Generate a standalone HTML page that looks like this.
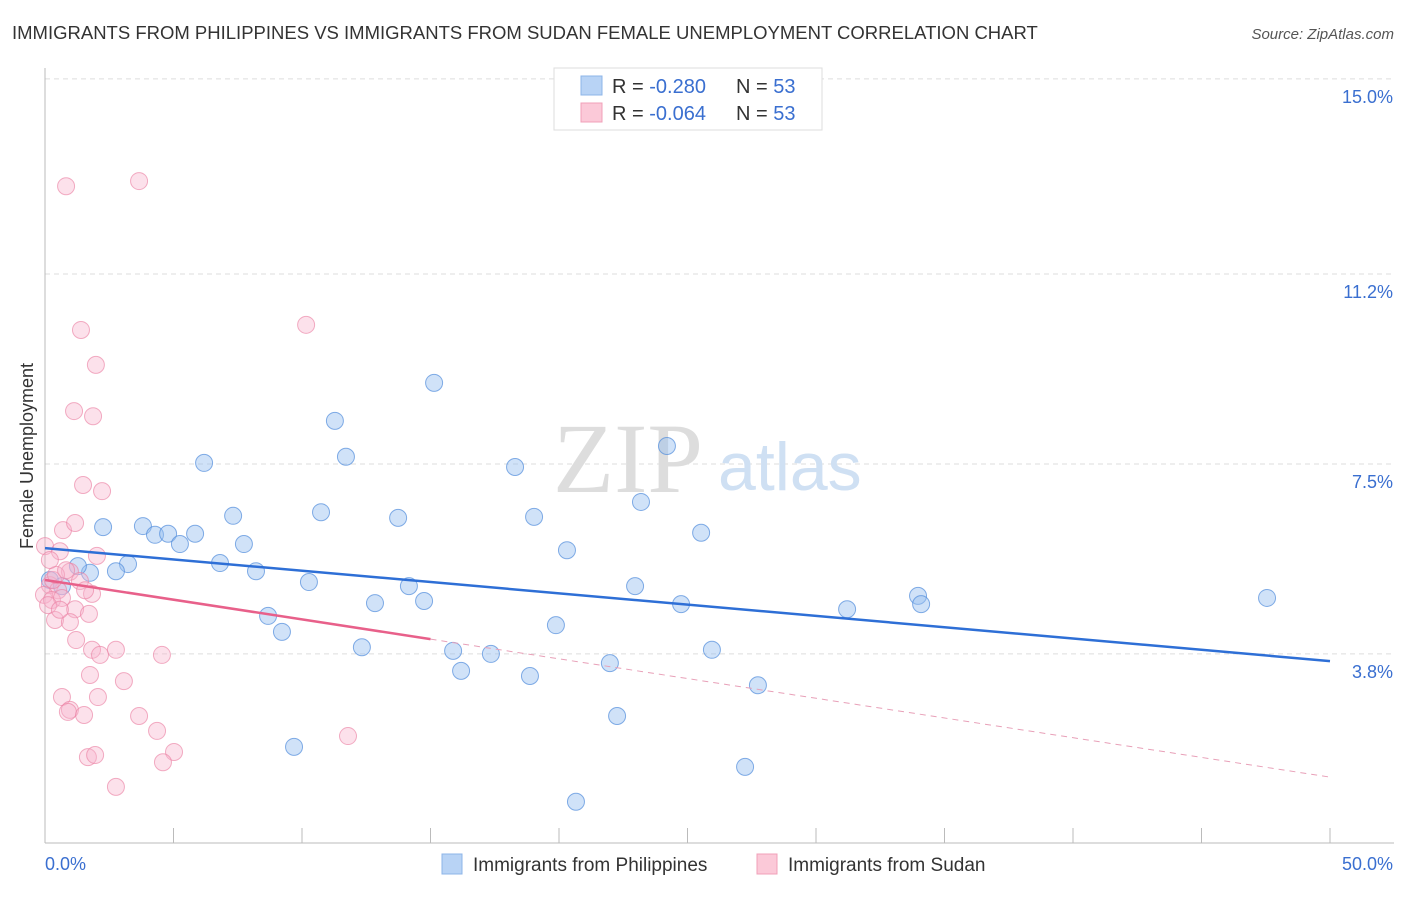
<!DOCTYPE html>
<html><head><meta charset="utf-8"><style>
body{margin:0;background:#fff;font-family:"Liberation Sans",sans-serif}
</style></head><body>
<svg width="1406" height="892" xmlns="http://www.w3.org/2000/svg" style="font-family:'Liberation Sans',sans-serif">
<text x="12" y="39" font-size="18.5" fill="#333">IMMIGRANTS FROM PHILIPPINES VS IMMIGRANTS FROM SUDAN FEMALE UNEMPLOYMENT CORRELATION CHART</text>
<text x="1394" y="39" font-size="15" fill="#555" text-anchor="end" font-style="italic">Source: ZipAtlas.com</text>
<text x="33" y="456" font-size="18" fill="#333" text-anchor="middle" transform="rotate(-90 33 456)">Female Unemployment</text>
<g id="grid"></g><g id="axes"></g>
<text x="553" y="492" font-size="100" fill="#ddd" font-family="Liberation Serif">ZIP</text>
<text x="718" y="490" font-size="68" fill="#cfe0f3">atlas</text>
<g id="pts"></g><g id="lines"></g>
<g>
<rect x="554" y="68" width="268" height="62" fill="#fff" stroke="#ddd"/>
<rect x="581" y="76" width="21" height="19" fill="#b8d3f5" stroke="#8db4e8"/>
<rect x="581" y="103" width="21" height="19" fill="#fbc9d8" stroke="#f0a0b8"/>
<text x="612" y="93" font-size="20" fill="#333">R = <tspan fill="#3a6fd0">-0.280</tspan></text>
<text x="736" y="93" font-size="20" fill="#333">N = <tspan fill="#3a6fd0">53</tspan></text>
<text x="612" y="120" font-size="20" fill="#333">R = <tspan fill="#3a6fd0">-0.064</tspan></text>
<text x="736" y="120" font-size="20" fill="#333">N = <tspan fill="#3a6fd0">53</tspan></text>
</g>
<g>
<rect x="442" y="854" width="20" height="20" fill="#b8d3f5" stroke="#8db4e8"/>
<text x="473" y="871" font-size="19" fill="#333">Immigrants from Philippines</text>
<rect x="757" y="854" width="20" height="20" fill="#fbc9d8" stroke="#f0a0b8"/>
<text x="788" y="871" font-size="19" fill="#333">Immigrants from Sudan</text>
</g>
</svg>
<script>
const yTicks=[15.0,11.2,7.5,3.8];
const yTickLabels=["15.0%","11.2%","7.5%","3.8%"];
const xTickLabels=["0.0%","50.0%"];
const bluePx=[[103,527],[143,526],[155,535],[168,534],[180,544],[195,534],[204,463],[233,516],[244,544],[220,563],[256,571],[128,564],[116,571],[90,573],[78,566],[50,580],[62,586],[268,616],[282,632],[294,747],[309,582],[321,512],[335,421],[346,457],[362,647],[375,603],[398,518],[409,586],[424,601],[434,383],[453,651],[461,671],[491,654],[515,467],[530,676],[534,517],[556,625],[567,550],[576,802],[610,663],[617,716],[635,586],[641,502],[667,446],[681,604],[701,533],[712,650],[745,767],[758,685],[847,609],[918,596],[921,604],[1267,598]];
const pinkPx=[[66,186],[139,181],[81,330],[306,325],[96,365],[74,411],[93,416],[83,485],[102,491],[63,530],[75,523],[45,546],[60,551],[97,556],[70,572],[80,581],[50,585],[58,590],[44,595],[52,600],[62,598],[92,594],[75,609],[55,620],[70,622],[89,614],[76,640],[92,650],[116,650],[100,655],[162,655],[90,675],[124,681],[62,697],[98,697],[70,710],[68,712],[84,715],[139,716],[157,731],[174,752],[163,762],[88,757],[95,755],[348,736],[116,787],[53,580],[48,605],[56,575],[66,570],[85,590],[60,610],[50,560]];
const blueX=bluePx.map(p=>+((p[0]-45)/1285*50).toFixed(2));
const blueY=bluePx.map(p=>+((849-p[1])/51.34).toFixed(2));
const pinkX=pinkPx.map(p=>+((p[0]-45)/1285*50).toFixed(2));
const pinkY=pinkPx.map(p=>+((849-p[1])/51.34).toFixed(2));
const blueTrend=[5.86,3.66];
const pinkTrend=[5.24,1.40];
const sx=v=>45+v/50*1285, sy=v=>849-v*51.34;
const NS="http://www.w3.org/2000/svg";
function mk(t,a,parent){const e=document.createElementNS(NS,t);for(const k in a)e.setAttribute(k,a[k]);document.getElementById(parent).appendChild(e);return e;}
yTicks.forEach((v,i)=>{
 const l=mk('line',{x1:45,x2:1394,y1:sy(v),y2:sy(v),stroke:'#ddd','stroke-dasharray':'5,4'},'grid');
 
 
 const t=mk('text',{x:1393,y:sy(v)+24,'font-size':18,fill:'#3a6fd0','text-anchor':'end'},'grid');t.textContent=yTickLabels[i];
 
 
});
let a=mk('line',{x1:45,x2:45,y1:68,y2:843,stroke:'#bbb'},'axes');


a=mk('line',{x1:45,x2:1394,y1:843,y2:843,stroke:'#bbb'},'axes');


for(let i=0;i<=10;i++){const tk=mk('line',{x1:sx(i*5),x2:sx(i*5),y1:828,y2:843,stroke:'#bbb'},'axes');
 
 }
let t=mk('text',{x:45,y:870,'font-size':18,fill:'#3a6fd0'},'axes');t.textContent=xTickLabels[0];


t=mk('text',{x:1393,y:870,'font-size':18,fill:'#3a6fd0','text-anchor':'end'},'axes');t.textContent=xTickLabels[1];


blueX.forEach((x,i)=>{const c=mk('circle',{cx:sx(x),cy:sy(blueY[i]),r:8.5,fill:'rgba(150,190,240,0.45)',stroke:'rgba(80,140,220,0.7)'},'pts');
 
 });
pinkX.forEach((x,i)=>{const c=mk('circle',{cx:sx(x),cy:sy(pinkY[i]),r:8.5,fill:'rgba(248,180,205,0.4)',stroke:'rgba(235,130,165,0.65)'},'pts');
 
 });
let ln=mk('line',{x1:sx(0),y1:sy(blueTrend[0]),x2:sx(50),y2:sy(blueTrend[1]),stroke:'#2e6fd6','stroke-width':2.5},'lines');


const pAt=x=>pinkTrend[0]+(pinkTrend[1]-pinkTrend[0])*x/50;
ln=mk('line',{x1:sx(0),y1:sy(pAt(0)),x2:sx(15),y2:sy(pAt(15)),stroke:'#e8608a','stroke-width':2.5},'lines');


ln=mk('line',{x1:sx(15),y1:sy(pAt(15)),x2:sx(50),y2:sy(pAt(50)),stroke:'#e8a0b8','stroke-width':1,'stroke-dasharray':'6,5'},'lines');


</script>
</body></html>
